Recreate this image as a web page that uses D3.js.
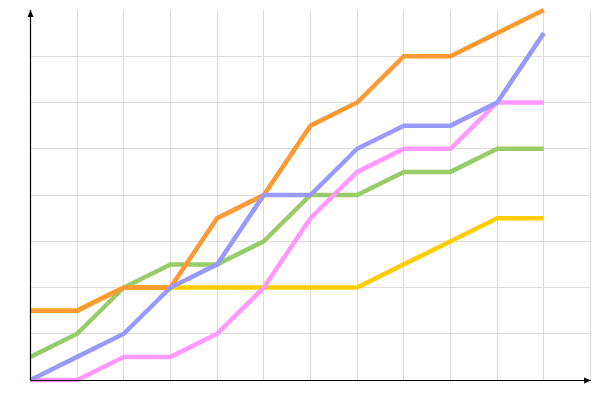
<!DOCTYPE html>
<html><head><meta charset="utf-8">
<script src="https://cdn.jsdelivr.net/npm/d3@7"></script>
<style>body{margin:0;background:#fff}svg{display:block}</style>
</head><body><svg id="c" width="600" height="400"></svg>
<script>
const xIndex = [0,1,2,3,4,5,6,7,8,9,10,11];
const yellow = [1.5,1.5,2,2,2,2,2,2,2.5,3,3.5,3.5];
const green  = [0.5,1,2,2.5,2.5,3,4,4,4.5,4.5,5,5];
const orange = [1.5,1.5,2,2,3.5,4,5.5,6,7,7,7.5,8];
const pink   = [0,0,0.5,0.5,1,2,3.5,4.5,5,5,6,6];
const blue   = [0,0.5,1,2,2.5,4,4,5,5.5,5.5,6,7.5];
const seriesList = [
  {values: yellow, color: "#ffcc00"},
  {values: green, color: "#99cc66"},
  {values: orange, color: "#ff9933"},
  {values: pink, color: "#ff99ff"},
  {values: blue, color: "#9999ff"}
];
const svg = d3.select("#c");
const x = d3.scaleLinear().domain([0,12]).range([30.5,590.5]);
const y = d3.scaleLinear().domain([0,8]).range([380,10]);
const g = svg.append("g");
g.selectAll("line.vx").data(d3.range(1,13)).join("line")
  .attr("x1",d=>x(d)).attr("x2",d=>x(d)).attr("y1",y(0)).attr("y2",y(8))
  .attr("stroke","#dddddd").attr("stroke-width",1).attr("shape-rendering","crispEdges");
g.selectAll("line.hy").data(d3.range(1,8)).join("line")
  .attr("x1",x(0)).attr("x2",x(12)).attr("y1",d=>y(d)).attr("y2",d=>y(d))
  .attr("stroke","#dddddd").attr("stroke-width",1).attr("shape-rendering","crispEdges");
const line = d3.line().x((d,i)=>x(xIndex[i])).y(d=>y(d));
seriesList.forEach(s=>{
  svg.append("path").datum(s.values).attr("d",line).attr("fill","none")
    .attr("stroke",s.color).attr("stroke-width",4.5).attr("stroke-linejoin","miter");
});
// axes
svg.append("line").attr("x1",x(0)).attr("x2",591).attr("y1",y(0)+0.5).attr("y2",y(0)+0.5)
  .attr("stroke","#000").attr("stroke-width",1.2);
svg.append("line").attr("x1",x(0)).attr("x2",x(0)).attr("y1",y(0)).attr("y2",10)
  .attr("stroke","#000").attr("stroke-width",1.2);
svg.append("path").attr("d",`M591,${y(0)+0.5} L584,${y(0)-2.5} L584,${y(0)+3.5} Z`).attr("fill","#000");
svg.append("path").attr("d",`M${x(0)},10 L${x(0)-3},17 L${x(0)+3},17 Z`).attr("fill","#000");
</script></body></html>
